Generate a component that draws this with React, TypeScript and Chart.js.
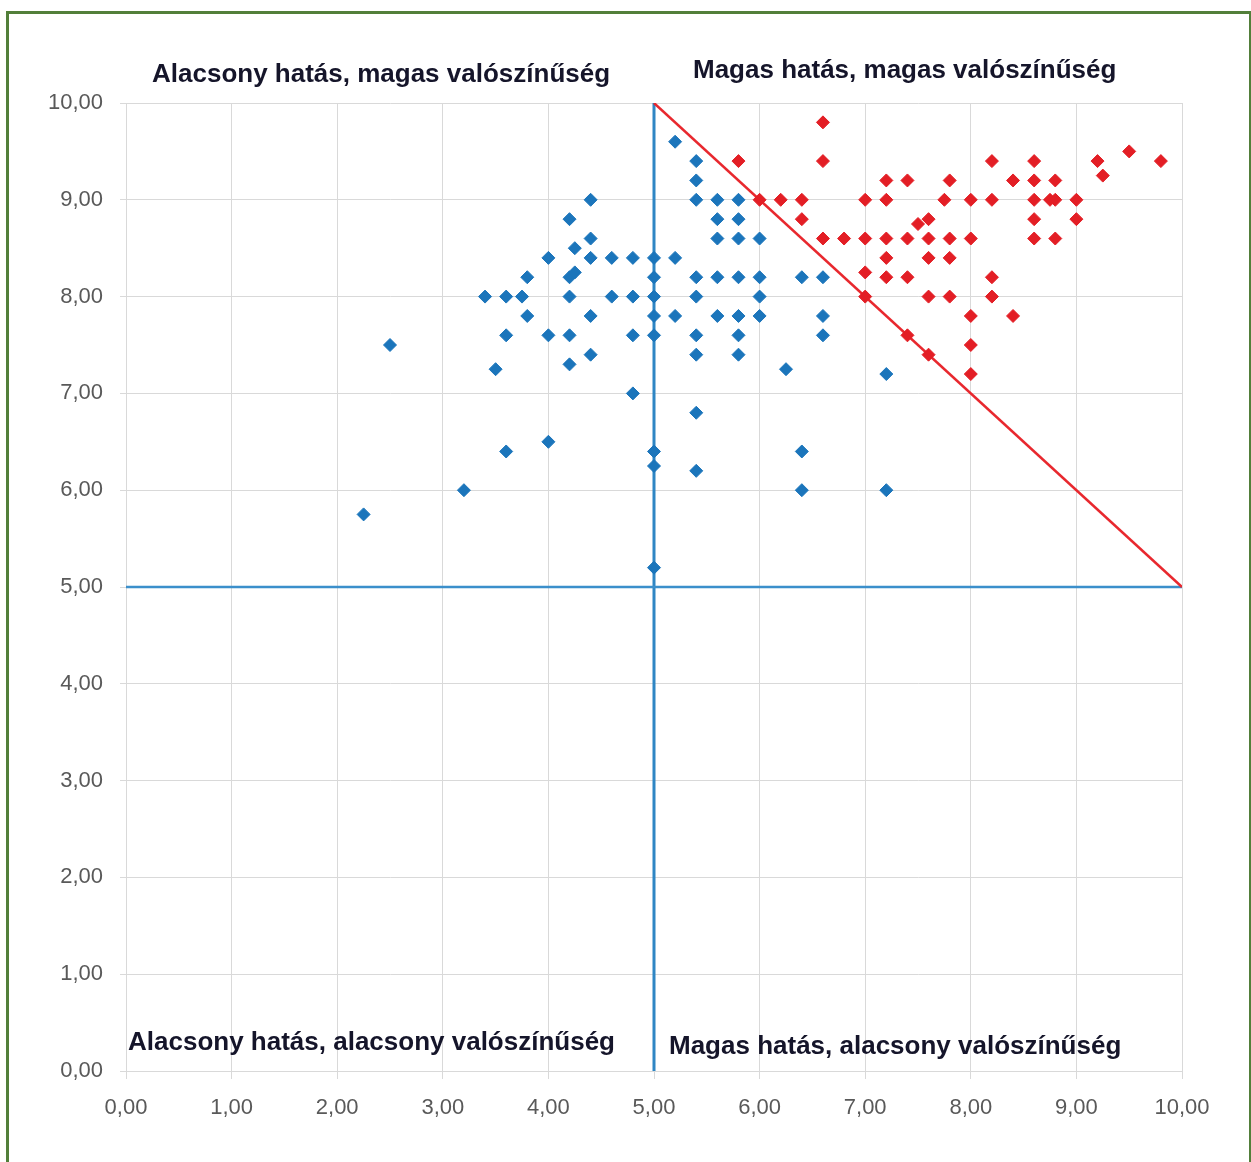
import React, { useEffect, useRef } from 'react';
import { Chart, registerables } from 'chart.js';

Chart.register(...registerables);

// Blue series: points outside the "high impact, high probability" zone
const blueX = [
  2.25, 2.5, 3.2, 3.4, 3.5, 3.6, 3.6, 3.6, 3.75, 3.8, 3.8, 4.0, 4.0, 4.0,
  4.2, 4.25, 4.2, 4.25, 4.2, 4.2, 4.2, 4.4, 4.4, 4.4, 4.4, 4.4, 4.6, 4.6,
  4.8, 4.8, 4.8, 4.8,
  5.0, 5.0, 5.0, 5.0, 5.0, 5.0, 5.0, 5.0,
  5.2, 5.2, 5.2,
  5.4, 5.4, 5.4, 5.4, 5.4, 5.4, 5.4, 5.4, 5.4,
  5.6, 5.6, 5.6, 5.6, 5.6,
  5.8, 5.8, 5.8, 5.8, 5.8, 5.8, 5.8,
  6.0, 6.0, 6.0, 6.0,
  6.25, 6.4, 6.4, 6.4, 6.6, 6.6, 6.6, 7.2, 7.2,
];
const blueY = [
  5.75, 7.5, 6.0, 8.0, 7.25, 8.0, 7.6, 6.4, 8.0, 8.2, 7.8, 8.4, 7.6, 6.5,
  8.8, 8.5, 8.2, 8.25, 8.0, 7.6, 7.3, 9.0, 8.6, 8.4, 7.8, 7.4, 8.4, 8.0,
  8.4, 8.0, 7.6, 7.0,
  8.4, 8.2, 8.0, 7.8, 7.6, 6.4, 6.25, 5.2,
  9.6, 8.4, 7.8,
  9.4, 9.2, 9.0, 8.2, 8.0, 7.6, 7.4, 6.8, 6.2,
  9.0, 8.8, 8.6, 8.2, 7.8,
  9.0, 8.8, 8.6, 8.2, 7.8, 7.6, 7.4,
  8.6, 8.2, 8.0, 7.8,
  7.25, 8.2, 6.4, 6.0, 8.2, 7.8, 7.6, 7.2, 6.0,
];

// Red series: "high impact, high probability" zone
const redX = [
  5.8, 6.0, 6.2, 6.4, 6.4, 6.6, 6.6, 6.6, 6.8,
  7.0, 7.0, 7.0, 7.0,
  7.2, 7.2, 7.2, 7.2, 7.2,
  7.4, 7.4, 7.4, 7.4, 7.5,
  7.6, 7.6, 7.6, 7.6, 7.6, 7.75,
  7.8, 7.8, 7.8, 7.8,
  8.0, 8.0, 8.0, 8.0, 8.0,
  8.2, 8.2, 8.2, 8.2, 8.4, 8.4,
  8.6, 8.6, 8.6, 8.6, 8.6, 8.75,
  8.8, 8.8, 8.8, 9.0, 9.0, 9.2, 9.25, 9.5, 9.8,
];
const redY = [
  9.4, 9.0, 9.0, 9.0, 8.8, 9.8, 9.4, 8.6, 8.6,
  9.0, 8.6, 8.25, 8.0,
  9.2, 9.0, 8.6, 8.4, 8.2,
  9.2, 8.6, 8.2, 7.6, 8.75,
  8.8, 8.6, 8.4, 8.0, 7.4, 9.0,
  9.2, 8.6, 8.4, 8.0,
  9.0, 8.6, 7.8, 7.5, 7.2,
  9.4, 9.0, 8.2, 8.0, 9.2, 7.8,
  9.4, 9.2, 9.0, 8.8, 8.6, 9.0,
  9.2, 9.0, 8.6, 9.0, 8.8, 9.4, 9.25, 9.5, 9.4,
];

// Divider lines
const horizontalLineX = [0, 10];
const horizontalLineY = [5, 5];
const verticalLineX = [5, 5];
const verticalLineY = [0, 10];
const diagonalX = [5, 10];
const diagonalY = [10, 5];

const axisMin = 0;
const axisMax = 10;
const axisStep = 1;

const quadrantLabels = [
  'Alacsony hatás, magas valószínűség',
  'Magas hatás, magas valószínűség',
  'Alacsony hatás, alacsony valószínűség',
  'Magas hatás, alacsony valószínűség',
];

const toPoints = (xs: number[], ys: number[]) => xs.map((x, i) => ({ x, y: ys[i] }));
const fmt = (v: number | string) => Number(v).toFixed(2).replace('.', ',');

const quadrantPlugin = {
  id: 'quadrantLabels',
  afterDraw(chart: any) {
    const ctx = chart.ctx;
    ctx.save();
    ctx.font = 'bold 26px "Liberation Sans", Arial, sans-serif';
    ctx.fillStyle = '#15152a';
    ctx.textAlign = 'left';
    ctx.textBaseline = 'middle';
    const pos = [
      [152, 75],
      [693, 71],
      [128, 1043],
      [669, 1047],
    ];
    quadrantLabels.forEach((t, i) => ctx.fillText(t, pos[i][0], pos[i][1]));
    ctx.restore();
  },
};

export default function App() {
  const ref = useRef<HTMLCanvasElement | null>(null);

  useEffect(() => {
    if (!ref.current) return;
    const tickFont = { family: '"Liberation Sans", Arial, sans-serif', size: 22 };
    const chart = new Chart(ref.current, {
      type: 'scatter',
      data: {
        datasets: [
          {
            label: 'blue',
            data: toPoints(blueX, blueY),
            pointStyle: 'rectRot',
            pointRadius: 6.5,
            pointBorderWidth: 1,
            backgroundColor: '#1b75bb',
            borderColor: '#1b75bb',
            order: 1,
          },
          {
            label: 'red',
            data: toPoints(redX, redY),
            pointStyle: 'rectRot',
            pointRadius: 6.5,
            pointBorderWidth: 1,
            backgroundColor: '#e31e25',
            borderColor: '#e31e25',
            order: 1,
          },
          {
            label: 'h',
            data: toPoints(horizontalLineX, horizontalLineY),
            showLine: true,
            pointRadius: 0,
            borderColor: '#3b8fcb',
            borderWidth: 2.5,
            order: 3,
          },
          {
            label: 'v',
            data: toPoints(verticalLineX, verticalLineY),
            showLine: true,
            pointRadius: 0,
            borderColor: '#2f86c4',
            borderWidth: 3,
            order: 3,
          },
          {
            label: 'd',
            data: toPoints(diagonalX, diagonalY),
            showLine: true,
            pointRadius: 0,
            borderColor: '#e8282e',
            borderWidth: 2.5,
            order: 2,
          },
        ],
      },
      options: {
        animation: false,
        responsive: false,
        devicePixelRatio: 1,
        layout: { padding: { top: 103, right: 69, left: 0, bottom: 0 } },
        plugins: { legend: { display: false }, tooltip: { enabled: false } },
        scales: {
          x: {
            type: 'linear',
            min: axisMin,
            max: axisMax,
            afterFit: (s: any) => { s.height = 91; },
            grid: { color: '#d9d9d9', tickLength: 8, lineWidth: 1 },
            border: { color: '#d9d9d9' },
            ticks: { stepSize: axisStep, callback: (v: any) => fmt(v), font: tickFont, color: '#595959', padding: 16, maxRotation: 0 },
          },
          y: {
            type: 'linear',
            min: axisMin,
            max: axisMax,
            afterFit: (s: any) => { s.width = 126; },
            grid: { color: '#d9d9d9', tickLength: 6, lineWidth: 1 },
            border: { color: '#d9d9d9' },
            ticks: { stepSize: axisStep, callback: (v: any) => fmt(v), font: tickFont, color: '#595959', padding: 17 },
          },
        },
      },
      plugins: [quadrantPlugin],
    } as any);
    return () => chart.destroy();
  }, []);

  return (
    <div style={{ position: 'absolute', left: 0, top: 0, width: 1251, height: 1162, background: '#ffffff', overflow: 'hidden' }}>
      <canvas ref={ref} width={1251} height={1162} style={{ position: 'absolute', left: 0, top: 0, width: 1251, height: 1162 }} />
      <div style={{ position: 'absolute', left: 6, top: 11, width: 1240, height: 1200, border: '3px solid #527f3a', pointerEvents: 'none' }} />
    </div>
  );
}
